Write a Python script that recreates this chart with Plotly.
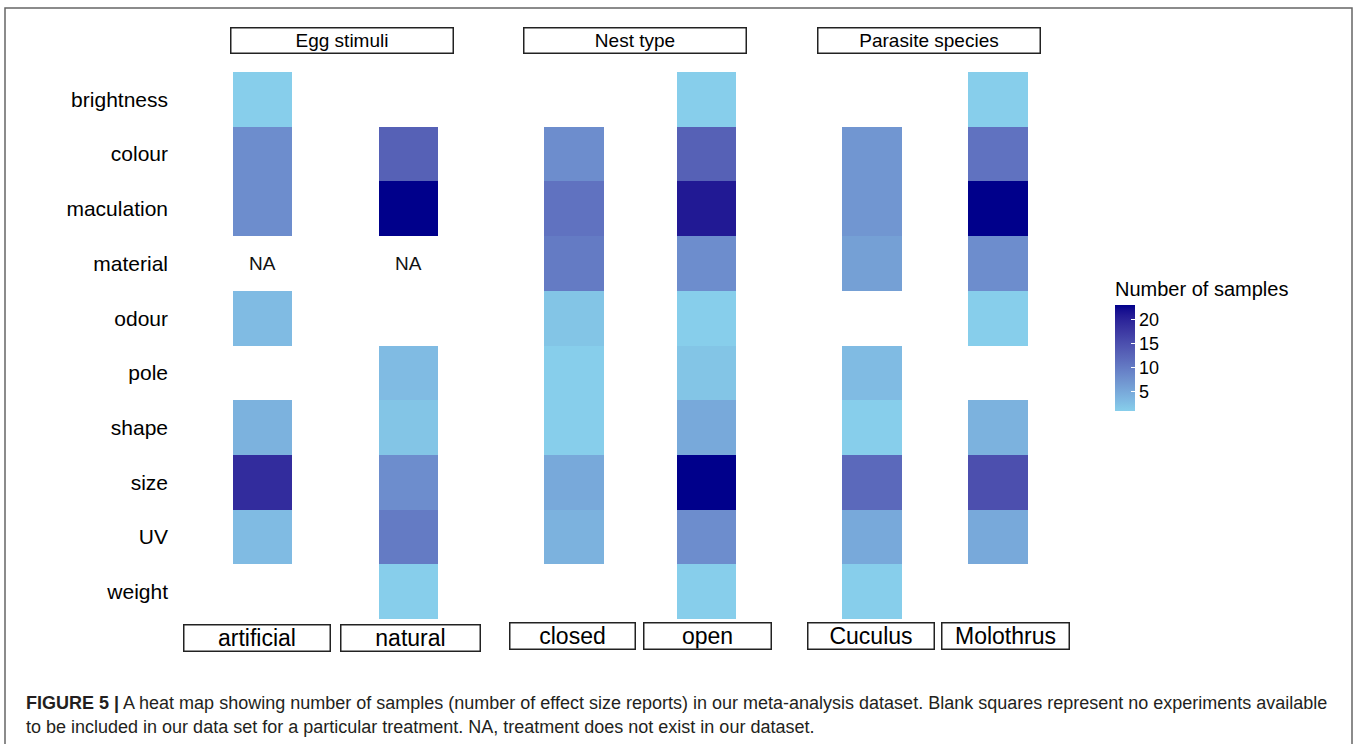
import plotly.graph_objects as go

# ---- data -------------------------------------------------------------
traits = ["brightness", "colour", "maculation", "material", "odour",
          "pole", "shape", "size", "UV", "weight"]

facets = ["Egg stimuli", "Nest type", "Parasite species"]
treatments = ["artificial", "natural", "closed", "open", "Cuculus", "Molothrus"]
facet_of = [0, 0, 1, 1, 2, 2]

# number of samples per trait (None = no experiments, "NA" = treatment absent)
artificial = [1, 8, 8, "NA", 3, None, 4, 19, 3, None]
natural = [None, 13, 23, "NA", None, 3, 2, 8, 10, 1]
closed = [None, 8, 11, 10, 2, 1, 1, 5, 4, None]
open_nest = [1, 13, 21, 8, 1, 2, 5, 23, 8, 1]
cuculus = [None, 7, 7, 6, None, 3, 1, 12, 5, 1]
molothrus = [1, 11, 23, 8, 1, None, 4, 15, 5, None]

series = [artificial, natural, closed, open_nest, cuculus, molothrus]

legend_ticks = [5, 10, 15, 20]

caption_1 = ("<b>FIGURE 5 |</b> A heat map showing number of samples (number of effect size reports) "
             "in our meta-analysis dataset. Blank squares represent no experiments available")
caption_2 = ("to be included in our data set for a particular treatment. NA, treatment does not "
             "exist in our dataset.")

# ---- layout constants (pixels) -----------------------------------------
W, H = 1358, 744
col_px = [(233, 292), (379, 438), (544, 604), (677, 736), (842, 902), (968, 1028)]
strip_px = [(230, 454), (523, 747), (817, 1041)]
label_px = [(183, 331, 638), (340, 481, 638), (509, 636, 636),
            (643, 772, 636), (807, 935, 636), (941, 1070, 636)]
grid_top, grid_bottom = 72, 619
FONT = "Liberation Sans, Arial, sans-serif"


def px(x):
    return x / W


def py(y):
    return 1 - y / H


# ---- colour scale: skyblue -> darkblue interpolated in CIELAB -----------
def _to_lab(hexc):
    rgb = [int(hexc[i:i + 2], 16) / 255 for i in (1, 3, 5)]
    lin = [c / 12.92 if c <= 0.04045 else ((c + 0.055) / 1.055) ** 2.4 for c in rgb]
    X = (0.4124 * lin[0] + 0.3576 * lin[1] + 0.1805 * lin[2]) / 0.95047
    Y = 0.2126 * lin[0] + 0.7152 * lin[1] + 0.0722 * lin[2]
    Z = (0.0193 * lin[0] + 0.1192 * lin[1] + 0.9505 * lin[2]) / 1.08883
    f = lambda t: t ** (1 / 3) if t > 0.008856 else 7.787 * t + 16 / 116
    fx, fy, fz = f(X), f(Y), f(Z)
    return 116 * fy - 16, 500 * (fx - fy), 200 * (fy - fz)


def _from_lab(L, a, b):
    fy = (L + 16) / 116
    fx = fy + a / 500
    fz = fy - b / 200
    finv = lambda t: t ** 3 if t ** 3 > 0.008856 else (t - 16 / 116) / 7.787
    X, Y, Z = finv(fx) * 0.95047, finv(fy), finv(fz) * 1.08883
    r = 3.2406 * X - 1.5372 * Y - 0.4986 * Z
    g = -0.9689 * X + 1.8758 * Y + 0.0415 * Z
    bl = 0.0557 * X - 0.2040 * Y + 1.0570 * Z
    out = []
    for c in (r, g, bl):
        c = 12.92 * c if c <= 0.0031308 else 1.055 * c ** (1 / 2.4) - 0.055
        out.append(round(min(max(c, 0), 1) * 255))
    return "rgb({},{},{})".format(*out)


lo, hi = _to_lab("#87CEEB"), _to_lab("#00008B")
n_stops = 21
colorscale = []
for i in range(n_stops):
    t = i / (n_stops - 1)
    colorscale.append([t, _from_lab(*[lo[k] + (hi[k] - lo[k]) * t for k in range(3)])])

numeric = [v for s in series for v in s if isinstance(v, (int, float))]
zmin, zmax = min(numeric), max(numeric)

# ---- figure ------------------------------------------------------------
fig = go.Figure()
layout_axes = {}
annotations = []

for i, (name, vals) in enumerate(zip(treatments, series)):
    ax = "" if i == 0 else str(i + 1)
    z = [[v if isinstance(v, (int, float)) else None] for v in vals]
    fig.add_trace(go.Heatmap(
        x=[name], y=traits, z=z,
        coloraxis="coloraxis",
        xaxis="x" + ax, yaxis="y",
        hoverongaps=False,
    ))
    layout_axes["xaxis" + ax] = dict(
        domain=[px(col_px[i][0]), px(col_px[i][1])],
        anchor="y", type="category", range=[-0.5, 0.5],
        showticklabels=False, showgrid=False, zeroline=False, showline=False, ticks="",
    )
    # "NA" markers for treatments that do not exist
    for trait, v in zip(traits, vals):
        if v == "NA":
            annotations.append(dict(
                x=name, y=trait, xref="x" + ax, yref="y", text="NA", showarrow=False,
                font=dict(family=FONT, size=19, color="#111"),
            ))
    # treatment label boxes under the columns
    x0, x1, yc = label_px[i]
    annotations.append(dict(
        x=px((x0 + x1) / 2), y=py(yc), xref="paper", yref="paper",
        text=name, showarrow=False, width=x1 - x0 - 3, height=25,
        bordercolor="#222", borderwidth=1.5, borderpad=0, bgcolor="white",
        font=dict(family=FONT, size=23, color="black"),
        xanchor="center", yanchor="middle",
    ))

# facet strips
for (x0, x1), title in zip(strip_px, facets):
    annotations.append(dict(
        x=px((x0 + x1) / 2), y=py(40.5), xref="paper", yref="paper",
        text=title, showarrow=False, width=x1 - x0 - 3, height=24,
        bordercolor="#222", borderwidth=1.5, borderpad=0, bgcolor="white",
        font=dict(family=FONT, size=19, color="black"),
        xanchor="center", yanchor="middle",
    ))

# caption
annotations.append(dict(x=px(24), y=py(703), xref="paper", yref="paper", text=caption_1,
                        showarrow=False, xanchor="left", yanchor="middle",
                        font=dict(family=FONT, size=18, color="#231f20")))
annotations.append(dict(x=px(24), y=py(727), xref="paper", yref="paper", text=caption_2,
                        showarrow=False, xanchor="left", yanchor="middle",
                        font=dict(family=FONT, size=18, color="#231f20")))

fig.update_layout(
    width=W, height=H,
    margin=dict(l=0, r=0, t=0, b=0),
    paper_bgcolor="white", plot_bgcolor="white",
    font=dict(family=FONT, color="black"),
    yaxis=dict(
        domain=[py(grid_bottom), py(grid_top)],
        type="category", categoryarray=traits, autorange="reversed",
        anchor="free", position=px(168),
        showgrid=False, zeroline=False, showline=False, ticks="",
        tickfont=dict(family=FONT, size=21, color="black"),
    ),
    coloraxis=dict(
        colorscale=colorscale, cmin=zmin, cmax=zmax,
        colorbar=dict(
            title=dict(text="Number of samples", side="top",
                       font=dict(family=FONT, size=20, color="black")),
            lenmode="pixels", len=133, thickness=20,
            x=px(1115), xanchor="left", y=py(278), yanchor="top",
            xpad=0, ypad=0, outlinewidth=0,
            tickvals=legend_ticks, ticks="inside", ticklen=4, tickcolor="white",
            tickfont=dict(family=FONT, size=18, color="black"),
        ),
    ),
    annotations=annotations,
    shapes=[dict(type="rect", xref="paper", yref="paper",
                 x0=px(5), x1=px(1352), y0=-0.05, y1=py(8),
                 line=dict(color="#666", width=1.5))],
    **layout_axes,
)

fig.write_html("out.html")
